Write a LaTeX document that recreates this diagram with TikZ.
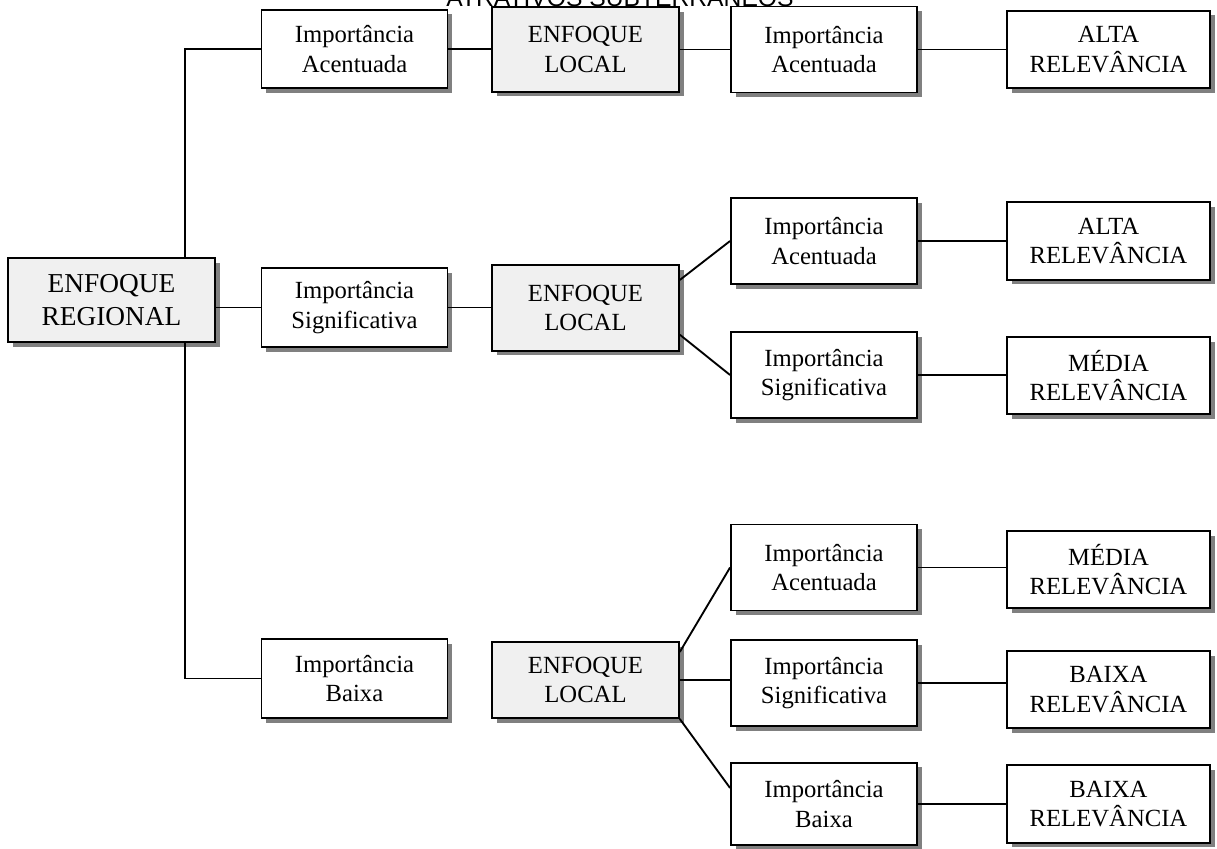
\documentclass[tikz,border=0pt]{standalone}
\usepackage{fontspec}
\setmainfont{Liberation Serif}
\newfontfamily\titlefont{Liberation Sans}
\usetikzlibrary{shapes,shadows}

\begin{document}
\begin{tikzpicture}[x=0.75pt,y=-0.75pt]
		\tikzstyle {caixa} = [draw, line width=1.4pt, fill=white, inner sep=0pt, align=center,
			font=\fontsize{18.5}{22}\selectfont,
			drop shadow={shadow xshift=3.5pt, shadow yshift=-3.5pt, fill=black!50, opacity=1}]
		\tikzstyle {caixa cinza} = [caixa, fill=black!6]
		\tikzstyle {ligacao} = [line width=1.4pt]

		\useasboundingbox (0,0) rectangle (1217,849);

		\node[font=\titlefont\fontsize{18.5}{22}\selectfont, anchor=base] (titulo) at (620,7) {ATRATIVOS SUBTERRÂNEOS};

		\node[caixa cinza, font=\fontsize{20.5}{25}\selectfont, minimum width=155pt, minimum height=63pt] (regional) at (111.5,300) {ENFOQUE\\REGIONAL};

		\node[caixa, minimum width=139.5pt, minimum height=59pt] (regA) at (354.5,49) {Importância\\Acentuada};
		\node[caixa, minimum width=139.5pt, minimum height=59pt] (regS) at (354.5,307.5) {Importância\\Significativa};
		\node[caixa, minimum width=139.5pt, minimum height=59pt] (regB) at (354.5,678.5) {Importância\\Baixa};

		\node[caixa cinza, minimum width=140pt, minimum height=63.5pt] (localA) at (585.5,49.5) {ENFOQUE\\LOCAL};
		\node[caixa cinza, minimum width=140pt, minimum height=64pt] (localS) at (585.5,308) {ENFOQUE\\LOCAL};
		\node[caixa cinza, minimum width=140pt, minimum height=57pt] (localB) at (585.5,680) {ENFOQUE\\LOCAL};

		\node[caixa, minimum width=139.5pt, minimum height=64.5pt] (aA) at (824,49.5) {Importância\\Acentuada};
		\node[caixa, minimum width=139.5pt, minimum height=64.5pt] (sA) at (824,241) {Importância\\Acentuada};
		\node[caixa, minimum width=139.5pt, minimum height=64.5pt] (sS) at (824,375) {Importância\\Significativa};
		\node[caixa, minimum width=139.5pt, minimum height=64.5pt] (bA) at (824,567.5) {Importância\\Acentuada};
		\node[caixa, minimum width=139.5pt, minimum height=64.5pt] (bS) at (824,683) {Importância\\Significativa};
		\node[caixa, minimum width=139.5pt, minimum height=62pt] (bB) at (824,804) {Importância\\Baixa};

		\node[caixa, minimum width=152pt, minimum height=58pt] (r1) at (1108.5,49.5) {ALTA\\RELEVÂNCIA};
		\node[caixa, minimum width=152pt, minimum height=58pt] (r2) at (1108.5,241) {ALTA\\RELEVÂNCIA};
		\node[caixa, minimum width=152pt, minimum height=58pt] (r3) at (1108.5,375.5) {MÉDIA\\RELEVÂNCIA};
		\node[caixa, minimum width=152pt, minimum height=58pt] (r4) at (1108.5,569.5) {MÉDIA\\RELEVÂNCIA};
		\node[caixa, minimum width=152pt, minimum height=58pt] (r5) at (1108.5,689.5) {BAIXA\\RELEVÂNCIA};
		\node[caixa, minimum width=152pt, minimum height=58pt] (r6) at (1108.5,804) {BAIXA\\RELEVÂNCIA};

		\coordinate (tronco) at (185,300);
		\draw[ligacao] (tronco |- regional.north) |- (regA.west);
		\draw[ligacao] (tronco |- regional.south) |- (regB.west);
		\draw[ligacao] (regional.east |- regS.west) -- (regS.west);

		\draw[ligacao] (regA.east) -- (regA.east -| localA.west);
		\draw[ligacao] (regS.east) -- (regS.east -| localS.west);

		\draw[ligacao] (localA.east) -- (localA.east -| aA.west);
		\draw[ligacao] (aA.east) -- (aA.east -| r1.west);

		\draw[ligacao] ([yshift=21pt]localS.east) -- (sA.west);
		\draw[ligacao] ([yshift=-20pt]localS.east) -- (sS.west);

		\draw[ligacao] ([yshift=21pt]localB.east) -- (bA.west);
		\draw[ligacao] (localB.east) -- (localB.east -| bS.west);
		\draw[ligacao] (localB.south east) -- ([yshift=12pt]bB.west);

		\foreach \a/\b in {sA/r2, sS/r3, bA/r4, bS/r5, bB/r6}
		{
			\draw[ligacao] (\a.east) -- (\a.east -| \b.west);
		}

	\end{tikzpicture}
\end{document}
